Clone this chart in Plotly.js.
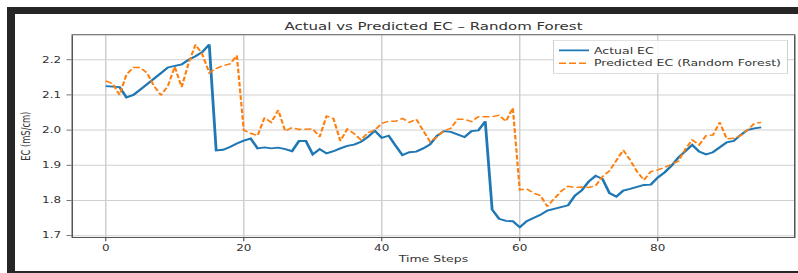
<!DOCTYPE html>
<html>
<head>
<meta charset="utf-8">
<script src="https://cdn.plot.ly/plotly-3.0.1.min.js"></script>
<style>
  html, body { margin: 0; padding: 0; background: #ffffff; overflow: hidden; }
  body { width: 798px; height: 273px; position: relative; }
  #wrap { position: absolute; left: 0; top: 0; width: 798px; height: 410px;
          transform: scaleY(0.66585); transform-origin: 0 0; }
  #plot { width: 798px; height: 410px; }
  .band { position: absolute; background: #262626; pointer-events: none; }
</style>
</head>
<body>
<div id="wrap"><div id="plot"></div></div>
<div class="band" style="left:7px; top:7px; width:791px; height:7px;"></div>
<div class="band" style="left:7px; top:7px; width:8px; height:266px;"></div>
<div class="band" style="left:7px; top:271px; width:791px; height:2px;"></div>
<script>
// ---- data ----
const timeSteps = Array.from({length: 96}, (_, i) => i);

const actualEC = [
  2.125, 2.123, 2.122, 2.093, 2.100, 2.115, 2.130, 2.145, 2.162, 2.178,
  2.182, 2.187, 2.200, 2.210, 2.222, 2.243, 1.942, 1.944, 1.952, 1.962,
  1.970, 1.976, 1.948, 1.951, 1.948, 1.950, 1.946, 1.940, 1.969, 1.969,
  1.931, 1.946, 1.934, 1.940, 1.948, 1.955, 1.959, 1.967, 1.981, 1.998,
  1.978, 1.984, 1.956, 1.929, 1.937, 1.939, 1.948, 1.959, 1.984, 1.997,
  1.995, 1.988, 1.980, 1.997, 1.999, 2.025, 1.774, 1.748, 1.742, 1.741,
  1.724, 1.741, 1.750, 1.759, 1.771, 1.776, 1.781, 1.786, 1.814, 1.829,
  1.854, 1.870, 1.861, 1.821, 1.811, 1.828, 1.833, 1.838, 1.844, 1.845,
  1.865, 1.880, 1.899, 1.922, 1.941, 1.958, 1.939, 1.931, 1.937, 1.950,
  1.965, 1.969, 1.986, 2.000, 2.005, 2.008
];

const predictedEC = [
  2.140, 2.132, 2.100, 2.158, 2.178, 2.178, 2.162, 2.125, 2.099, 2.125,
  2.180, 2.122, 2.190, 2.243, 2.215, 2.163, 2.175, 2.183, 2.188, 2.212,
  2.000, 1.991, 1.984, 2.035, 2.022, 2.057, 1.997, 2.007, 2.002, 2.002,
  2.003, 1.981, 2.040, 2.033, 1.969, 2.003, 1.990, 1.972, 1.993, 2.000,
  2.019, 2.025, 2.025, 2.033, 2.022, 2.031, 2.000, 1.967, 1.981, 1.998,
  2.005, 2.031, 2.031, 2.024, 2.038, 2.038, 2.038, 2.042, 2.025, 2.063,
  1.830, 1.833, 1.821, 1.814, 1.783, 1.805, 1.826, 1.840, 1.837, 1.838,
  1.837, 1.842, 1.868, 1.884, 1.912, 1.943, 1.915, 1.882, 1.858, 1.882,
  1.887, 1.894, 1.903, 1.912, 1.946, 1.972, 1.958, 1.984, 1.986, 2.022,
  1.975, 1.977, 1.984, 2.000, 2.019, 2.022
];

const seriesNames = ["Actual EC", "Predicted EC (Random Forest)"];
const xTickVals = [0, 20, 40, 60, 80];
const yTickVals = [1.7, 1.8, 1.9, 2.0, 2.1, 2.2];

const FONT = "DejaVu Sans, Verdana, sans-serif";

const traces = [
  {
    x: timeSteps, y: actualEC, name: seriesNames[0], type: "scatter", mode: "lines",
    line: { color: "#1f77b4", width: 2.8 }
  },
  {
    x: timeSteps, y: predictedEC, name: seriesNames[1], type: "scatter", mode: "lines",
    line: { color: "#ff7f0e", width: 2.2, dash: "7px,3px" }
  }
];

const axisCommon = {
  showgrid: true, gridcolor: "#cfcfcf", gridwidth: 1.5,
  showline: true, mirror: true, linecolor: "#555555", linewidth: 1.5,
  ticks: "outside", ticklen: 5, tickwidth: 1.2, tickcolor: "#555555",
  zeroline: false,
  tickfont: { family: FONT, size: 12, color: "#333333" }
};

const layout = {
  width: 798, height: 410,
  margin: { l: 73, r: 4, t: 53, b: 54 },
  paper_bgcolor: "#ffffff", plot_bgcolor: "#ffffff",
  font: { family: FONT, color: "#333333" },
  title: {
    text: "Actual vs Predicted EC \u2013 Random Forest",
    font: { family: FONT, size: 15, color: "#333333" },
    x: 0.5, xref: "paper", xanchor: "center",
    y: 0.902, yref: "container", yanchor: "middle"
  },
  xaxis: Object.assign({}, axisCommon, {
    range: [-4.75, 99.75],
    tickvals: xTickVals,
    title: { text: "Time Steps", font: { family: FONT, size: 12.5, color: "#333333" }, standoff: 6 }
  }),
  yaxis: Object.assign({}, axisCommon, {
    range: [1.696, 2.2695],
    tickvals: yTickVals,
    tickformat: ".1f",
    ticklabelstandoff: 3,
    title: { text: "EC (mS/cm)", font: { family: FONT, size: 12.5, color: "#333333" }, standoff: 8 }
  }),
  showlegend: true,
  legend: {
    x: 0.9917, xanchor: "right", y: 0.9767, yanchor: "top",
    bgcolor: "rgba(255,255,255,0.85)", bordercolor: "#d0d0d0", borderwidth: 1,
    font: { family: FONT, size: 12.5, color: "#333333" }
  }
};

Plotly.newPlot("plot", traces, layout, { displayModeBar: false, staticPlot: true });
</script>
</body>
</html>
